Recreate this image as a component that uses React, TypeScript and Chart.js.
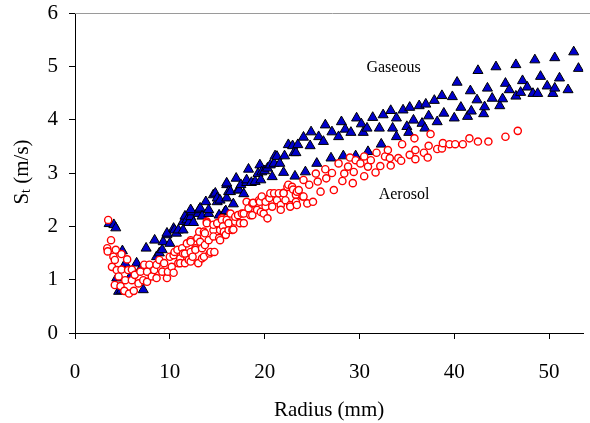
import React, { useEffect, useRef } from "react";
import { Chart, registerables } from "chart.js";

Chart.register(...registerables);

const xTickValues = [0, 10, 20, 30, 40, 50];
const yTickValues = [0, 1, 2, 3, 4, 5, 6];
const xTitle = "Radius (mm)";
const seriesNames = ["Gaseous", "Aerosol"];

const gaseous: [number, number][] = [
  [3.6, 2.05], [4.1, 2.03], [4.3, 1.97], [5.0, 1.54], [4.4, 1.03], [4.6, 0.78], [4.9, 0.8],
  [5.3, 1.3], [5.8, 1.05], [6.5, 1.31], [6.9, 1.2], [7.2, 0.81], [7.5, 1.59], [8.4, 1.74],
  [8.6, 1.43], [8.9, 1.5], [9.2, 1.56], [9.3, 1.71], [9.7, 1.84], [9.7, 1.87], [10.0, 1.68],
  [10.4, 1.96], [10.5, 1.93], [10.7, 1.87], [10.9, 1.93], [11.4, 2.09], [11.4, 1.93],
  [11.6, 2.19], [11.8, 2.12], [12.0, 2.07], [12.2, 2.18], [12.3, 2.27], [12.5, 2.07],
  [12.2, 2.31], [13.0, 2.24], [13.1, 2.31], [13.2, 2.34], [13.4, 2.19], [13.8, 2.46],
  [14.1, 2.24], [14.1, 2.31], [14.6, 2.59], [14.8, 2.62], [15.0, 2.46], [15.0, 2.53],
  [15.2, 2.21], [15.3, 2.49], [15.8, 2.27], [15.9, 2.29], [16.0, 2.53], [16.0, 2.78],
  [16.0, 2.81], [16.2, 2.65], [16.4, 2.65], [16.7, 2.42], [17.0, 2.9], [17.2, 2.68],
  [17.3, 2.68], [17.5, 2.78], [17.8, 2.61], [18.1, 2.82], [18.1, 2.87], [18.3, 3.07],
  [18.6, 2.82], [19.0, 2.84], [19.3, 2.99], [19.5, 3.15], [19.6, 2.87], [19.7, 3.02],
  [20.0, 3.04], [20.3, 3.09], [20.6, 3.15], [20.8, 2.93], [21.0, 3.18], [21.1, 3.32],
  [21.3, 3.31], [21.6, 3.18], [22.0, 3.01], [22.1, 3.32], [22.5, 3.53], [22.95, 3.51],
  [23.1, 3.38], [23.2, 2.94], [23.3, 3.38], [23.5, 3.53], [24.1, 3.67], [24.3, 3.02],
  [24.8, 3.51], [24.9, 3.77], [25.5, 3.18], [25.7, 3.68], [26.2, 3.59], [26.4, 3.9],
  [27.0, 3.28], [27.1, 3.77], [27.8, 3.68], [28.1, 3.96], [28.3, 3.32], [28.5, 3.82],
  [29.1, 3.76], [29.6, 3.32], [29.7, 4.03], [30.2, 3.92], [30.4, 3.76], [30.8, 3.84],
  [30.9, 3.4], [31.4, 4.04], [32.1, 3.84], [32.3, 3.54], [32.5, 4.09], [33.3, 4.17],
  [33.5, 3.84], [33.9, 4.03], [33.9, 3.68], [34.6, 4.18], [35.0, 3.87], [35.2, 3.76],
  [35.3, 4.23], [35.7, 3.99], [36.3, 4.26], [36.6, 3.93], [36.9, 3.84], [37.0, 4.29],
  [37.3, 4.07], [37.9, 4.36], [38.2, 3.96], [38.7, 4.45], [38.9, 4.12], [39.8, 4.43],
  [40.0, 4.03], [40.3, 4.7], [40.7, 4.23], [41.4, 4.06], [41.7, 4.54], [41.8, 4.16],
  [42.4, 4.37], [42.5, 4.92], [43.1, 4.11], [43.2, 4.24], [43.5, 4.59], [44.0, 4.4],
  [44.4, 4.99], [44.8, 4.26], [45.1, 4.39], [45.4, 4.68], [45.8, 4.56], [46.5, 4.44],
  [46.5, 5.03], [47.0, 4.51], [47.2, 4.73], [47.7, 4.61], [48.3, 4.49], [48.5, 5.12],
  [48.8, 4.49], [49.1, 4.81], [49.8, 4.63], [50.4, 4.49], [50.6, 4.59], [50.6, 5.16],
  [51.1, 4.78], [52.0, 4.56], [52.6, 5.27], [53.1, 4.96],
];

const aerosol: [number, number][] = [
  [3.5, 2.12], [3.4, 1.59], [3.45, 1.53], [3.8, 1.74], [4.05, 1.43], [3.9, 1.24], [4.3, 1.56],
  [4.2, 1.37], [4.4, 1.18], [4.2, 0.9], [4.6, 1.06], [4.8, 0.88], [4.9, 1.48], [4.9, 1.19],
  [5.3, 0.99], [5.5, 1.38], [5.2, 0.79], [5.6, 1.18], [5.7, 0.74], [6.0, 0.99], [6.2, 0.79],
  [6.0, 1.19], [6.3, 1.09], [6.7, 0.93], [6.9, 1.15], [7.2, 0.99], [7.3, 1.28], [7.6, 0.96],
  [7.6, 1.15], [7.85, 1.28], [8.1, 1.06], [8.35, 1.18], [8.6, 1.03], [8.6, 1.28], [8.9, 1.37],
  [9.2, 1.15], [9.4, 1.31], [9.7, 1.03], [9.8, 1.15], [10.0, 1.43], [10.2, 1.24], [10.4, 1.13],
  [10.4, 1.46], [10.5, 1.52], [10.8, 1.56], [10.9, 1.31], [11.1, 1.4], [11.1, 1.31],
  [11.3, 1.59], [11.4, 1.49], [11.6, 1.31], [11.6, 1.49], [11.8, 1.68], [12.0, 1.37],
  [12.2, 1.74], [12.2, 1.52], [12.2, 1.71], [12.2, 1.34], [12.4, 1.43], [12.7, 1.59],
  [12.7, 1.56], [12.9, 1.78], [13.0, 1.31], [13.1, 1.9], [13.2, 1.71], [13.4, 1.59],
  [13.4, 1.4], [13.6, 1.43], [13.6, 1.9], [13.7, 1.87], [13.7, 1.65], [13.9, 2.09],
  [13.9, 2.06], [14.1, 1.74], [14.2, 1.49], [14.3, 1.52], [14.6, 1.93], [14.6, 2.03],
  [14.6, 1.81], [14.7, 1.52], [15.0, 2.06], [15.2, 1.78], [15.3, 1.93], [15.3, 1.74],
  [15.5, 2.15], [15.5, 2.12], [15.6, 2.0], [15.7, 1.9], [15.9, 1.84], [16.0, 2.12],
  [16.2, 1.93], [16.2, 2.06], [16.4, 2.24], [16.6, 1.93], [16.7, 1.94], [16.9, 2.09],
  [16.9, 2.18], [17.2, 2.21], [17.4, 2.06], [17.6, 2.24], [17.8, 2.24], [17.8, 2.06],
  [18.1, 2.46], [18.3, 2.34], [18.5, 2.21], [18.7, 2.21], [18.7, 2.43], [18.8, 2.44],
  [19.2, 2.31], [19.4, 2.49], [19.5, 2.46], [19.6, 2.27], [19.7, 2.56], [19.9, 2.24],
  [20.1, 2.37], [20.1, 2.46], [20.3, 2.15], [20.5, 2.53], [20.6, 2.62], [20.8, 2.37],
  [21.0, 2.62], [21.3, 2.49], [21.5, 2.62], [21.7, 2.4], [21.7, 2.31], [22.0, 2.63],
  [22.0, 2.62], [22.2, 2.49], [22.4, 2.74], [22.5, 2.78], [22.7, 2.4], [22.7, 2.37],
  [22.9, 2.74], [23.0, 2.69], [23.3, 2.59], [23.3, 2.46], [23.4, 2.65], [23.4, 2.4],
  [23.6, 2.68], [24.0, 2.56], [24.1, 2.87], [24.1, 2.56], [24.5, 2.43], [24.7, 2.78],
  [25.1, 2.46], [25.4, 2.99], [25.6, 2.84], [25.9, 2.65], [26.4, 3.07], [26.5, 2.9],
  [27.1, 3.0], [27.3, 2.68], [27.8, 3.18], [28.2, 2.85], [28.4, 2.99], [28.8, 3.12],
  [29.0, 3.29], [29.3, 2.81], [29.4, 3.02], [29.6, 3.24], [30.1, 3.18], [30.5, 3.31],
  [30.5, 2.94], [30.9, 3.12], [31.2, 3.24], [31.7, 3.01], [31.8, 3.38], [32.2, 3.13],
  [32.7, 3.31], [33.0, 3.43], [33.2, 3.28], [33.3, 3.14], [34.1, 3.28], [34.4, 3.23],
  [34.5, 3.54], [35.3, 3.34], [35.8, 3.65], [35.9, 3.43], [35.9, 3.26], [36.8, 3.38],
  [37.2, 3.29], [37.3, 3.51], [37.5, 3.73], [38.2, 3.45], [38.7, 3.46], [38.8, 3.56],
  [39.5, 3.54], [40.1, 3.54], [40.9, 3.54], [41.6, 3.65], [42.5, 3.59], [43.6, 3.59],
  [45.4, 3.68], [46.7, 3.79],
];

const FONT = "'Liberation Serif', 'DejaVu Serif', serif";

const decorPlugin = {
  id: "decor",
  afterDraw(chart: any) {
    const { ctx, chartArea, scales } = chart;
    ctx.save();
    // top frame line
    ctx.strokeStyle = "#9a9a9a";
    ctx.lineWidth = 1;
    ctx.beginPath();
    ctx.moveTo(chartArea.left, chartArea.top + 0.5);
    ctx.lineTo(chart.width, chartArea.top + 0.5);
    ctx.stroke();

    // series annotations
    ctx.fillStyle = "#000";
    ctx.font = `16px ${FONT}`;
    ctx.textAlign = "center";
    ctx.textBaseline = "middle";
    ctx.fillText(seriesNames[0], scales.x.getPixelForValue(33.6), scales.y.getPixelForValue(4.97));
    ctx.fillText(seriesNames[1], scales.x.getPixelForValue(34.7), scales.y.getPixelForValue(2.59));

    // y axis title with subscript
    ctx.translate(22, 172);
    ctx.rotate(-Math.PI / 2);
    ctx.textBaseline = "middle";
    ctx.textAlign = "left";
    const bigFont = `21px ${FONT}`;
    const smallFont = `14px ${FONT}`;
    ctx.font = bigFont;
    const wS = ctx.measureText("S").width;
    const rest = " (m/s)";
    const wRest = ctx.measureText(rest).width;
    ctx.font = smallFont;
    const wt = ctx.measureText("t").width;
    const total = wS + wt + wRest;
    let x = -total / 2;
    ctx.font = bigFont;
    ctx.fillText("S", x, 0);
    x += wS;
    ctx.font = smallFont;
    ctx.fillText("t", x, 4);
    x += wt;
    ctx.font = bigFont;
    ctx.fillText(rest, x, 0);
    ctx.restore();
  },
};

export default function App() {
  const ref = useRef<HTMLCanvasElement | null>(null);

  useEffect(() => {
    if (!ref.current) return;
    const chart = new Chart(ref.current, {
      type: "scatter",
      data: {
        datasets: [
          {
            label: seriesNames[1],
            data: aerosol.map(([x, y]) => ({ x, y })),
            pointStyle: "circle",
            pointRadius: 3.6,
            pointBorderWidth: 1.4,
            pointBorderColor: "#ff0000",
            pointBackgroundColor: "#ffffff",
            order: 0,
          },
          {
            label: seriesNames[0],
            data: gaseous.map(([x, y]) => ({ x, y })),
            pointStyle: "triangle",
            pointRadius: 5.8,
            pointBorderWidth: 1,
            pointBorderColor: "#000000",
            pointBackgroundColor: "#0000cc",
            order: 1,
          },
        ],
      },
      options: {
        responsive: false,
        animation: false,
        events: [],
        layout: { padding: { top: 13, left: 0, right: 0, bottom: 0 } },
        plugins: {
          legend: { display: false },
          tooltip: { enabled: false },
          title: { display: false },
        },
        scales: {
          x: {
            type: "linear",
            min: 0,
            max: 53.6,
            afterBuildTicks: (scale: any) => {
              scale.ticks = xTickValues.map((v) => ({ value: v }));
            },
            afterFit: (scale: any) => {
              scale.height = 90;
              scale.paddingLeft = 0;
              scale.paddingRight = 0;
            },
            ticks: {
              color: "#000",
              font: { family: FONT, size: 21 },
              padding: 21,
              maxRotation: 0,
            },
            grid: {
              display: true,
              drawOnChartArea: false,
              drawTicks: true,
              tickLength: 6,
              color: "#000",
            },
            border: { display: true, color: "#000", width: 1 },
            title: {
              display: true,
              text: xTitle,
              color: "#000",
              font: { family: FONT, size: 21 },
              padding: { top: 0, bottom: 0 },
            },
          },
          y: {
            type: "linear",
            min: 0,
            max: 6,
            afterBuildTicks: (scale: any) => {
              scale.ticks = yTickValues.map((v) => ({ value: v }));
            },
            afterFit: (scale: any) => {
              scale.width = 75;
              scale.paddingTop = 0;
              scale.paddingBottom = 0;
            },
            ticks: {
              color: "#000",
              font: { family: FONT, size: 21 },
              padding: 11,
            },
            grid: {
              display: true,
              drawOnChartArea: false,
              drawTicks: true,
              tickLength: 6,
              color: "#000",
            },
            border: { display: true, color: "#000", width: 1 },
          },
        },
      },
      plugins: [decorPlugin],
    });
    return () => chart.destroy();
  }, []);

  return (
    <div style={{ position: "absolute", left: 0, top: 0, width: 590, height: 423, background: "#fff" }}>
      <canvas ref={ref} width={590} height={423} style={{ display: "block" }} />
    </div>
  );
}
